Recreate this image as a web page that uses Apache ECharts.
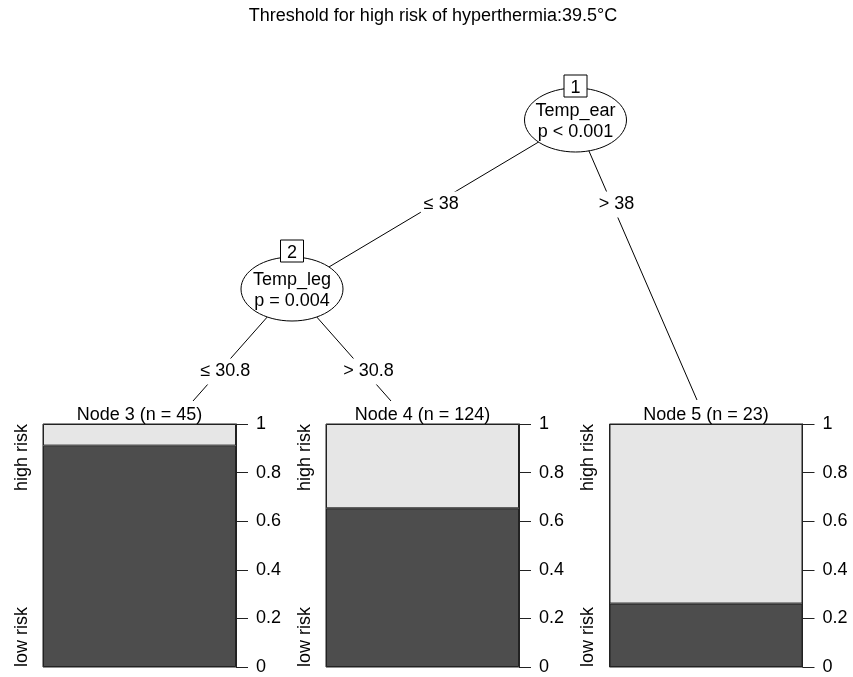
<!DOCTYPE html>
<html>
<head>
<meta charset="utf-8">
<script src="https://cdn.jsdelivr.net/npm/echarts@6/dist/echarts.min.js"></script>
<style>
  html, body { margin: 0; padding: 0; background: #fff; }
  #chart { width: 853px; height: 677px; }
</style>
</head>
<body>
<div id="chart"></div>
<script>
// ---- data ----
const chartTitle = 'Threshold for high risk of hyperthermia:39.5°C';
const classNames = ['low risk', 'high risk'];
const terminalIds = [3, 4, 5];
const terminalN = [45, 124, 23];
const lowRiskShare = [0.911, 0.653, 0.261];
const highRiskShare = [0.089, 0.347, 0.739];
const yTickLabels = ['0', '0.2', '0.4', '0.6', '0.8', '1'];
const innerIds = [1, 2];
const innerVars = ['Temp_ear', 'Temp_leg'];
const innerPValues = ['p < 0.001', 'p = 0.004'];
const splitLabels = ['≤ 38', '> 38', '≤ 30.8', '> 30.8'];

// ---- layout ----
const FONT = '"Liberation Sans", Arial, sans-serif';
const FS = 18;
const TY = 1.5;                                     // baseline nudge for centred text
const panelLeft = [43, 326, 609.5];
const panelWidth = 193;
const panelTop = 424;
const panelHeight = 243;
const innerPos = [[575.5, 120], [292, 289]];       // ellipse centres
const idBoxY = [86, 251];
const terminalTop = [[193, 401], [391, 401], [697, 400]];
// edges: [fromInner, toKind, toIndex, labelIndex, labelY]
const edges = [
  [0, 'inner', 1, 0, 203],
  [0, 'term', 2, 1, 203],
  [1, 'term', 0, 2, 370],
  [1, 'term', 1, 3, 370]
];
const labelShiftX = 5;

const chart = echarts.init(document.getElementById('chart'), null, { renderer: 'canvas' });

const grids = [], xAxes = [], yAxes = [], series = [];
terminalIds.forEach((id, i) => {
  grids.push({
    left: panelLeft[i], top: panelTop, width: panelWidth, height: panelHeight,
    show: true, borderColor: '#222', borderWidth: 1, backgroundColor: '#fff'
  });
  xAxes.push({
    gridIndex: i, type: 'category', data: ['Node ' + id],
    show: false
  });
  yAxes.push({
    gridIndex: i, type: 'value', position: 'right', min: 0, max: 1, interval: 0.2,
    axisLine: { show: true, lineStyle: { color: '#222', width: 1 } },
    axisTick: { show: true, length: 12, inside: false, lineStyle: { color: '#222', width: 1 } },
    axisLabel: {
      show: true, margin: 20, color: '#000', fontSize: FS, fontFamily: FONT,
      padding: [4, 0, 0, 0],
      formatter: v => yTickLabels[Math.round(v / 0.2)]
    },
    splitLine: { show: false }
  });
  series.push({
    type: 'bar', name: classNames[0], xAxisIndex: i, yAxisIndex: i, stack: 'p' + i,
    data: [lowRiskShare[i]], barWidth: '100%', barCategoryGap: 0,
    itemStyle: { color: '#4D4D4D', borderColor: '#222', borderWidth: 1 },
    silent: true, animation: false
  });
  series.push({
    type: 'bar', name: classNames[1], xAxisIndex: i, yAxisIndex: i, stack: 'p' + i,
    data: [highRiskShare[i]], barWidth: '100%', barCategoryGap: 0,
    itemStyle: { color: '#E6E6E6', borderColor: '#222', borderWidth: 1 },
    silent: true, animation: false
  });
});

function textEl(text, x, y, opts) {
  opts = opts || {};
  return Object.assign({
    type: 'text', x: x, y: y, z: opts.z || 10, silent: true,
    rotation: opts.rotation || 0,
    style: Object.assign({
      text: text, fill: '#000', fontSize: FS, fontFamily: FONT,
      align: opts.align || 'center', verticalAlign: opts.verticalAlign || 'middle',
      textAlign: opts.align || 'center', textVerticalAlign: opts.verticalAlign || 'middle'
    }, opts.style || {})
  });
}

const graphics = [];
// title
graphics.push(textEl(chartTitle, 433, 15 + TY));

// edges with their split labels
edges.forEach(e => {
  const p1 = innerPos[e[0]];
  const p2 = e[1] === 'inner' ? innerPos[e[2]] : terminalTop[e[2]];
  graphics.push({
    type: 'line', z: 1, silent: true,
    shape: { x1: p1[0], y1: p1[1], x2: p2[0], y2: p2[1] },
    style: { stroke: '#000', lineWidth: 1 }
  });
  const t = (e[4] - p1[1]) / (p2[1] - p1[1]);
  const lx = p1[0] + (p2[0] - p1[0]) * t + labelShiftX;
  graphics.push(textEl(splitLabels[e[3]], lx, e[4] + TY, {
    z: 5, style: { backgroundColor: '#fff', padding: [4, 3] }
  }));
});

// inner nodes
innerIds.forEach((id, i) => {
  const [cx, cy] = innerPos[i];
  graphics.push({
    type: 'ellipse', z: 3, silent: true,
    shape: { cx: cx, cy: cy, rx: 51, ry: 32 },
    style: { fill: '#fff', stroke: '#000', lineWidth: 1 }
  });
  graphics.push({
    type: 'rect', z: 4, silent: true,
    shape: { x: cx - 11.5, y: idBoxY[i] - 11, width: 23, height: 22 },
    style: { fill: '#fff', stroke: '#000', lineWidth: 1 }
  });
  graphics.push(textEl(String(id), cx, idBoxY[i] + 1 + TY, { z: 6 }));
  graphics.push(textEl(innerVars[i], cx, cy - 10 + TY, { z: 6 }));
  graphics.push(textEl(innerPValues[i], cx, cy + 11 + TY, { z: 6 }));
});

// terminal panel headings and class labels
terminalIds.forEach((id, i) => {
  graphics.push(textEl('Node ' + id + ' (n = ' + terminalN[i] + ')',
    panelLeft[i] + panelWidth / 2, 414 + TY));
  graphics.push(textEl(classNames[1], panelLeft[i] - 21, panelTop,
    { rotation: Math.PI / 2, align: 'right' }));
  graphics.push(textEl(classNames[0], panelLeft[i] - 21, panelTop + panelHeight,
    { rotation: Math.PI / 2, align: 'left' }));
});

chart.setOption({
  animation: false,
  backgroundColor: '#fff',
  grid: grids,
  xAxis: xAxes,
  yAxis: yAxes,
  series: series,
  graphic: { elements: graphics }
});
</script>
</body>
</html>
